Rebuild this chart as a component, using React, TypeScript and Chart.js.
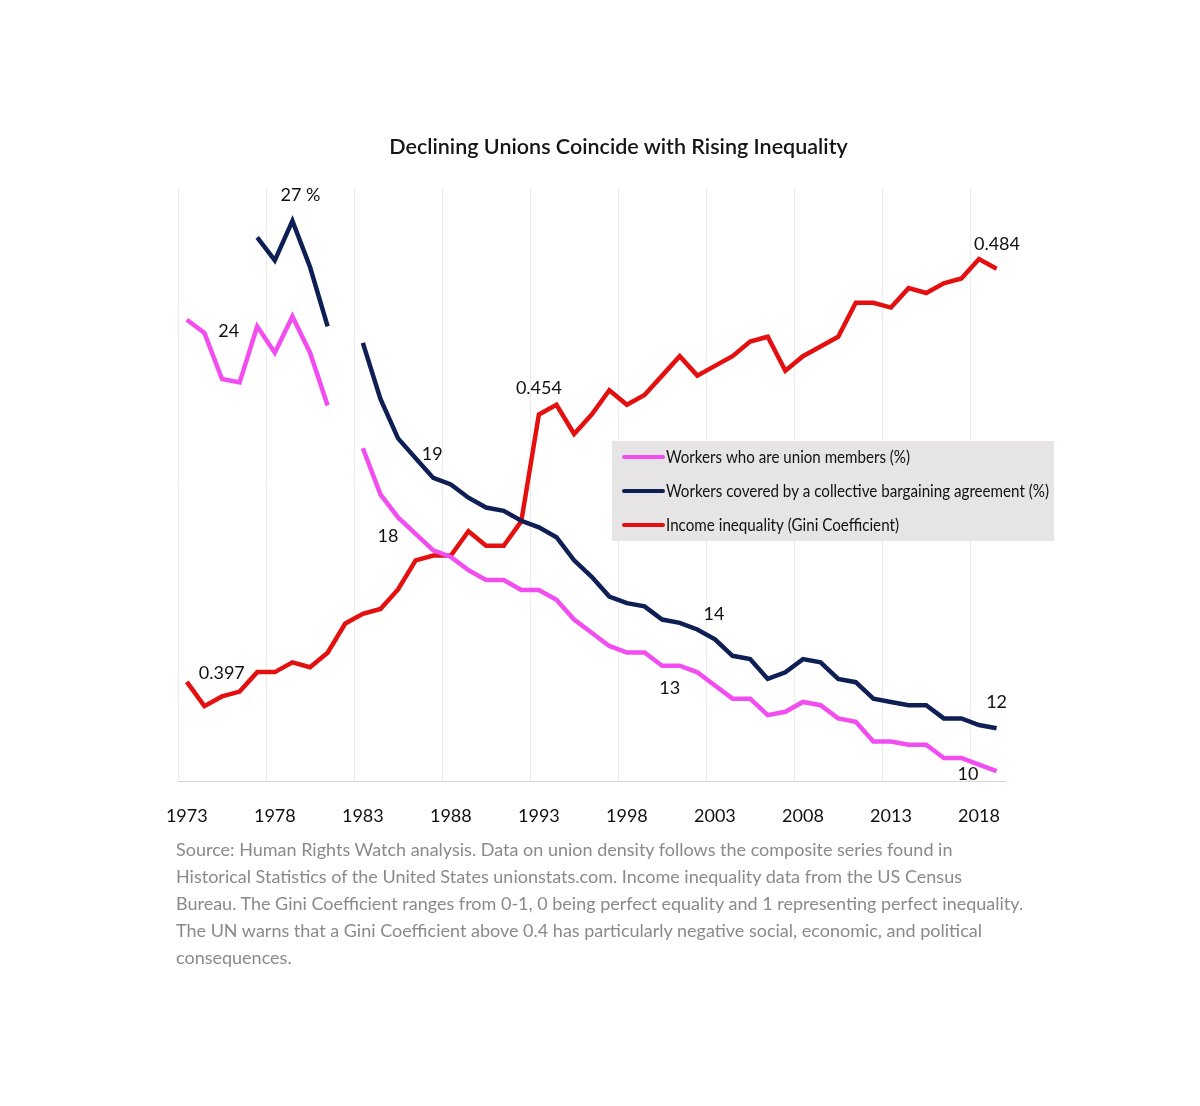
import React, { useEffect, useRef } from "react";
import { Chart, registerables } from "chart.js";

Chart.register(...registerables);

const years = [
  "1973", "1974", "1975", "1976", "1977", "1978", "1979", "1980", "1981", "1982",
  "1983", "1984", "1985", "1986", "1987", "1988", "1989", "1990", "1991", "1992",
  "1993", "1994", "1995", "1996", "1997", "1998", "1999", "2000", "2001", "2002",
  "2003", "2004", "2005", "2006", "2007", "2008", "2009", "2010", "2011", "2012",
  "2013", "2014", "2015", "2016", "2017", "2018", "2019",
];

const tickYears = ["1973", "1978", "1983", "1988", "1993", "1998", "2003", "2008", "2013", "2018"];

const unionMembers = [
  24.0, 23.6, 22.2, 22.1, 23.8, 23.0, 24.1, 23.0, 21.4, null,
  20.1, 18.7, 18.0, 17.5, 17.0, 16.8, 16.4, 16.1, 16.1, 15.8,
  15.8, 15.5, 14.9, 14.5, 14.1, 13.9, 13.9, 13.5, 13.5, 13.3,
  12.9, 12.5, 12.5, 12.0, 12.1, 12.4, 12.3, 11.9, 11.8, 11.2,
  11.2, 11.1, 11.1, 10.7, 10.7, 10.5, 10.3,
];

const bargaining = [
  null, null, null, null, 26.5, 25.8, 27.0, 25.6, 23.8, null,
  23.3, 21.6, 20.4, 19.8, 19.2, 19.0, 18.6, 18.3, 18.2, 17.9,
  17.7, 17.4, 16.7, 16.2, 15.6, 15.4, 15.3, 14.9, 14.8, 14.6,
  14.3, 13.8, 13.7, 13.1, 13.3, 13.7, 13.6, 13.1, 13.0, 12.5,
  12.4, 12.3, 12.3, 11.9, 11.9, 11.7, 11.6,
];

const gini = [
  0.397, 0.392, 0.394, 0.395, 0.399, 0.399, 0.401, 0.4, 0.403, 0.409,
  0.411, 0.412, 0.416, 0.422, 0.423, 0.423, 0.428, 0.425, 0.425, 0.43,
  0.452, 0.454, 0.448, 0.452, 0.457, 0.454, 0.456, 0.46, 0.464, 0.46,
  0.462, 0.464, 0.467, 0.468, 0.461, 0.464, 0.466, 0.468, 0.475, 0.475,
  0.474, 0.478, 0.477, 0.479, 0.48, 0.484, 0.482,
];

const seriesNames = [
  "Workers who are union members (%)",
  "Workers covered by a collective bargaining agreement (%)",
  "Income inequality (Gini Coefficient)",
];

// value labels: dataset index, anchor year, text
const labelTexts = ["27 %", "24", "19", "18", "14", "13", "12", "10", "0.397", "0.454", "0.484"];
const labelSeries = [1, 0, 1, 0, 1, 0, 1, 0, 2, 2, 2];
const labelYears = ["1979", "1973", "1987", "1985", "2003", "2001", "2019", "2018", "1973", "1993", "2018"];

const PINK = "#f24df0";
const NAVY = "#0e1f55";
const RED = "#e3100f";
const FONT = "Lato, 'Open Sans', sans-serif";

// offsets of each value label from its anchor point (px)
const labelOffsets: [number, number][] = [
  [8, -26], [42, 11], [-1, -24], [-10, 19], [-1, -25], [-10, 22],
  [0, -26], [-11, 10], [35, -9], [0, -26], [18, -15],
];

const annotationPlugin = {
  id: "valueLabels",
  afterDatasetsDraw(chart: any) {
    const ctx = chart.ctx;
    ctx.save();
    ctx.font = `18px ${FONT}`;
    ctx.fillStyle = "#111111";
    ctx.textAlign = "center";
    ctx.textBaseline = "middle";
    labelTexts.forEach((t, i) => {
      const meta = chart.getDatasetMeta(labelSeries[i]);
      const idx = years.indexOf(labelYears[i]);
      const pt = meta.data[idx];
      if (!pt) return;
      const [dx, dy] = labelOffsets[i];
      ctx.fillText(t, pt.x + dx, pt.y + dy);
    });
    ctx.restore();
  },
};

const legendPlugin = {
  id: "boxLegend",
  afterDatasetsDraw(chart: any) {
    const ctx = chart.ctx;
    const box = { x: 612, y: 441, w: 442, h: 100 };
    const rowY = [457, 491, 525];
    const targetW = [244, 383, 233];
    ctx.save();
    ctx.fillStyle = "#e6e4e4";
    ctx.fillRect(box.x, box.y, box.w, box.h);
    chart.data.datasets.forEach((ds: any, i: number) => {
      ctx.strokeStyle = ds.borderColor;
      ctx.lineWidth = 4;
      ctx.lineCap = "round";
      ctx.beginPath();
      ctx.moveTo(624, rowY[i]);
      ctx.lineTo(663, rowY[i]);
      ctx.stroke();
      ctx.font = `18px ${FONT}`;
      ctx.fillStyle = "#111111";
      ctx.textAlign = "left";
      ctx.textBaseline = "middle";
      const m = ctx.measureText(ds.label).width;
      ctx.save();
      ctx.translate(666, rowY[i]);
      ctx.scale(targetW[i] / m, 1);
      ctx.fillText(ds.label, 0, 0);
      ctx.restore();
    });
    ctx.restore();
  },
};

export default function App() {
  const ref = useRef<HTMLCanvasElement>(null);

  useEffect(() => {
    if (!ref.current) return;
    const chart = new Chart(ref.current, {
      type: "line",
      data: {
        labels: years,
        datasets: [
          {
            label: seriesNames[0],
            data: unionMembers,
            borderColor: PINK,
            backgroundColor: PINK,
            borderWidth: 4.5,
            pointRadius: 0,
            tension: 0,
            yAxisID: "y",
          },
          {
            label: seriesNames[1],
            data: bargaining,
            borderColor: NAVY,
            backgroundColor: NAVY,
            borderWidth: 4.5,
            pointRadius: 0,
            tension: 0,
            yAxisID: "y",
          },
          {
            label: seriesNames[2],
            data: gini,
            borderColor: RED,
            backgroundColor: RED,
            borderWidth: 4.5,
            pointRadius: 0,
            tension: 0,
            yAxisID: "y1",
          },
        ],
      },
      options: {
        animation: false,
        responsive: true,
        maintainAspectRatio: false,
        layout: { padding: { left: 178, right: 194.6, top: 188, bottom: 49.4 } },
        plugins: {
          legend: { display: false },
          title: { display: false },
          tooltip: { enabled: false },
        },
        scales: {
          x: {
            type: "category",
            offset: true,
            grid: {
              offset: true,
              drawTicks: false,
              lineWidth: 1,
              color: (c: any) =>
                c.index !== undefined && c.tick && tickYears.includes(years[c.index])
                  ? "#ebebeb"
                  : "rgba(0,0,0,0)",
            },
            border: { display: true, color: "#d6d6d6", width: 1 },
            ticks: {
              autoSkip: false,
              maxRotation: 0,
              padding: 24,
              color: "#111111",
              font: { family: FONT, size: 18 },
              callback: (_v: any, i: number) => (tickYears.includes(years[i]) ? years[i] : ""),
            },
          },
          y: { display: false, min: 10, max: 28 },
          y1: { display: false, min: 0.3766, max: 0.4986, position: "right" },
        },
      },
      plugins: [legendPlugin, annotationPlugin],
    } as any);
    return () => chart.destroy();
  }, []);

  const sourceLines = [
    "Source: Human Rights Watch analysis. Data on union density follows the composite series found in",
    "Historical Statistics of the United States unionstats.com. Income inequality data from the US Census",
    "Bureau. The Gini Coefficient ranges from 0-1, 0 being perfect equality and 1 representing perfect inequality.",
    "The UN warns that a Gini Coefficient above 0.4 has particularly negative social, economic, and political",
    "consequences.",
  ];

  return (
    <div
      style={{
        position: "absolute",
        left: 0,
        top: 0,
        width: 1200,
        height: 1106,
        background: "#ffffff",
        fontFamily: FONT,
        overflow: "hidden",
      }}
    >
      <div style={{ position: "absolute", left: 0, top: 0, width: 1200, height: 900 }}>
        <canvas ref={ref} />
      </div>
      <div
        style={{
          position: "absolute",
          left: 0,
          top: 132,
          width: 1237,
          textAlign: "center",
          fontSize: 21.5,
          lineHeight: "28px",
          fontWeight: 600,
          color: "#151515",
        }}
      >
        Declining Unions Coincide with Rising Inequality
      </div>
      <div
        style={{
          position: "absolute",
          left: 176,
          top: 836,
          fontSize: 18,
          lineHeight: "27px",
          color: "#8a8a8a",
          whiteSpace: "nowrap",
        }}
      >
        {sourceLines.map((l, i) => (
          <div key={i}>{l}</div>
        ))}
      </div>
    </div>
  );
}
